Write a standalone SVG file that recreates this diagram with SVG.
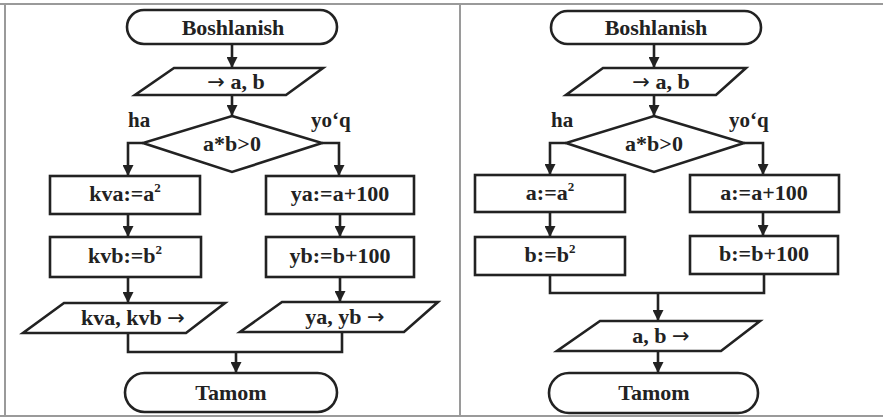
<svg xmlns="http://www.w3.org/2000/svg" width="883" height="419" viewBox="0 0 883 419">
<defs>
<style>
.s{fill:#fff;stroke:#222;stroke-width:2.6;stroke-linejoin:miter}
.c{fill:none;stroke:#222;stroke-width:2.6}
.t{font-family:"Liberation Serif","Times New Roman",serif;font-weight:bold;font-size:22px;fill:#222;text-anchor:middle}
.l{font-family:"Liberation Serif","Times New Roman",serif;font-weight:bold;font-size:21px;fill:#222}
.sup{font-size:13px}
.ar{font-family:"DejaVu Sans",sans-serif;font-size:21px;font-weight:normal}
.f{fill:none;stroke:#9a9a9a;stroke-width:2}
</style>
<marker id="ah" markerUnits="userSpaceOnUse" markerWidth="12" markerHeight="11" refX="11" refY="5.5" orient="auto">
<path d="M0,0 L11,5.5 L0,11 z" fill="#222"/>
</marker>
</defs>
<rect width="883" height="419" fill="#fff"/>
<g id="frame">
<line class="f" x1="0" y1="4" x2="883" y2="4"/>
<line class="f" x1="5" y1="4" x2="5" y2="416"/>
<line class="f" x1="460" y1="4" x2="460" y2="416"/>
<line class="f" x1="0" y1="416" x2="883" y2="416"/>
</g>
<g id="connectors">
<path class="c" d="M232,44 V68" marker-end="url(#ah)"/>
<path class="c" d="M232,95 V116" marker-end="url(#ah)"/>
<path class="c" d="M143,143 H128 V176" marker-end="url(#ah)"/>
<path class="c" d="M322,143 H339 V176" marker-end="url(#ah)"/>
<path class="c" d="M128,214 V237" marker-end="url(#ah)"/>
<path class="c" d="M340,214 V237" marker-end="url(#ah)"/>
<path class="c" d="M128,277 V303" marker-end="url(#ah)"/>
<path class="c" d="M340,277 V302" marker-end="url(#ah)"/>
<path class="c" d="M128,333 V352 H342 V332"/>
<path class="c" d="M236,352 V373" marker-end="url(#ah)"/>
<path class="c" d="M654,44 V68" marker-end="url(#ah)"/>
<path class="c" d="M654,95 V116" marker-end="url(#ah)"/>
<path class="c" d="M566,143 H550 V175" marker-end="url(#ah)"/>
<path class="c" d="M744,143 H763 V175" marker-end="url(#ah)"/>
<path class="c" d="M550,212 V237" marker-end="url(#ah)"/>
<path class="c" d="M763,212 V236" marker-end="url(#ah)"/>
<path class="c" d="M550,275 V293 H764 V274"/>
<path class="c" d="M658,293 V321" marker-end="url(#ah)"/>
<path class="c" d="M658,351 V373" marker-end="url(#ah)"/>
</g>
<g id="L_start"><rect class="s" x="127" y="10" width="210" height="34" rx="17"/><text class="t" x="233" y="35">Boshlanish</text></g>
<g id="L_input"><polygon class="s" points="174,68 323,68 286,95 135,95"/><text class="t" x="236" y="89"><tspan class="ar">→</tspan> a, b</text></g>
<g id="L_cond"><polygon class="s" points="232,116 322,143 232,172 143,143"/><text class="t" x="232" y="151">a*b&gt;0</text></g>
<text class="l" x="128" y="127">ha</text>
<text class="l" x="311" y="127">yo‘q</text>
<g id="L_kva"><rect class="s" x="50" y="176" width="150" height="38"/><text class="t" x="125" y="201">kva:=a<tspan class="sup" dy="-9">2</tspan></text></g>
<g id="L_ya"><rect class="s" x="266" y="176" width="148" height="38"/><text class="t" x="340" y="201">ya:=a+100</text></g>
<g id="L_kvb"><rect class="s" x="50" y="237" width="151" height="40"/><text class="t" x="125" y="263">kvb:=b<tspan class="sup" dy="-9">2</tspan></text></g>
<g id="L_yb"><rect class="s" x="266" y="237" width="148" height="40"/><text class="t" x="340" y="263">yb:=b+100</text></g>
<g id="L_out1"><polygon class="s" points="64,303 225,303 186,333 23,333"/><text class="t" x="133" y="325">kva, kvb <tspan class="ar">→</tspan></text></g>
<g id="L_out2"><polygon class="s" points="282,302 438,302 404,332 240,332"/><text class="t" x="345" y="324">ya, yb <tspan class="ar">→</tspan></text></g>
<g id="L_end"><rect class="s" x="125" y="373" width="212" height="39" rx="19.5"/><text class="t" x="231" y="400">Tamom</text></g>
<g id="R_start"><rect class="s" x="551" y="11" width="210" height="33" rx="16.5"/><text class="t" x="656" y="35">Boshlanish</text></g>
<g id="R_input"><polygon class="s" points="603,68 746,68 716,95 566,95"/><text class="t" x="661" y="89"><tspan class="ar">→</tspan> a, b</text></g>
<g id="R_cond"><polygon class="s" points="654,116 744,143 654,172 566,143"/><text class="t" x="654" y="151">a*b&gt;0</text></g>
<text class="l" x="551" y="127">ha</text>
<text class="l" x="729" y="127">yo‘q</text>
<g id="R_a1"><rect class="s" x="475" y="175" width="150" height="37"/><text class="t" x="550" y="200">a:=a<tspan class="sup" dy="-9">2</tspan></text></g>
<g id="R_a2"><rect class="s" x="690" y="175" width="149" height="37"/><text class="t" x="764" y="200">a:=a+100</text></g>
<g id="R_b1"><rect class="s" x="475" y="237" width="150" height="38"/><text class="t" x="550" y="262">b:=b<tspan class="sup" dy="-9">2</tspan></text></g>
<g id="R_b2"><rect class="s" x="690" y="236" width="148" height="38"/><text class="t" x="764" y="261">b:=b+100</text></g>
<g id="R_out"><polygon class="s" points="600,321 760,321 721,351 557,351"/><text class="t" x="661" y="343">a, b <tspan class="ar">→</tspan></text></g>
<g id="R_end"><rect class="s" x="549" y="373" width="209" height="40" rx="20"/><text class="t" x="654" y="400">Tamom</text></g>
</svg>
